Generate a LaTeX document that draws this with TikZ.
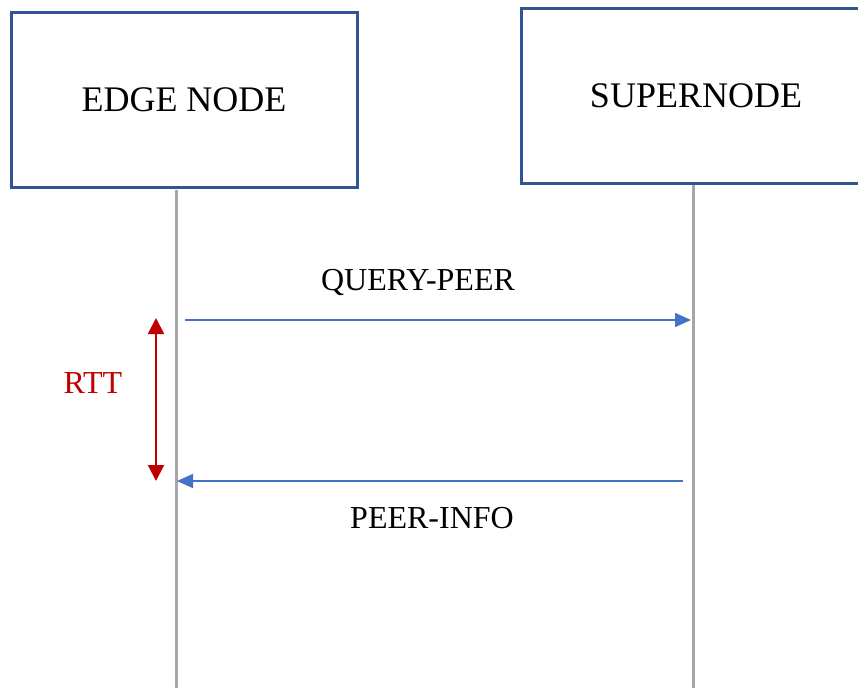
\documentclass[tikz,border=0pt]{standalone}
\usepackage{fontspec}
\setmainfont{Liberation Serif}
\usetikzlibrary{arrows.meta,positioning}
\definecolor{clBox}{HTML}{2F5597}
\definecolor{clMsg}{HTML}{4472C4}
\definecolor{clRtt}{HTML}{C00000}
\definecolor{clLife}{HTML}{A6A6A6}
\tikzset{
  actor/.style={rectangle, draw=clBox, line width=3pt, fill=white, inner sep=0pt,
                minimum width=346pt, minimum height=175pt,
                font=\fontsize{36}{42}\selectfont},
  lifeline/.style={draw=clLife, line width=3pt},
  msg/.style={-{Triangle[length=16pt,width=14pt]}, draw=clMsg, line width=1.5pt},
  rtt/.style={{Triangle[length=16pt,width=16pt]}-{Triangle[length=16pt,width=16pt]},
              draw=clRtt, line width=2pt},
  msglabel/.style={font=\fontsize{32}{38}\selectfont, inner sep=0pt},
}
\begin{document}
\begin{tikzpicture}[x=1pt,y=-1pt]
  \fill[white] (0,0) rectangle (858,688);
  \useasboundingbox (0,0) rectangle (858,688);
  % participants
  \node[actor] (edge) at (184,99.5) {EDGE NODE};
  \node[actor, minimum width=350pt] (super) at (696,95.5) {SUPERNODE};
  % lifelines
  \coordinate (edgeTop) at (176,190);
  \coordinate (edgeEnd) at (176,688);
  \coordinate (superTop) at (693,185);
  \coordinate (superEnd) at (693,688);
  \draw[lifeline] (edgeTop) -- (edgeEnd);
  \draw[lifeline] (superTop) -- (superEnd);
  % messages
  \coordinate (queryFrom) at (185,320);
  \coordinate (queryTo) at (691,320);
  \coordinate (infoFrom) at (683,481);
  \coordinate (infoTo) at (177,481);
  \draw[msg] (queryFrom) -- (queryTo);
  \draw[msg] (infoFrom) -- (infoTo);
  \node[msglabel] (queryLbl) at (418,282) {QUERY-PEER};
  \node[msglabel] (infoLbl) at (432,518) {PEER-INFO};
  % round trip
  \coordinate (rttTop) at (156,318);
  \coordinate (rttBot) at (156,481);
  \draw[rtt] (rttTop) -- (rttBot);
  \node[msglabel, text=clRtt] (rttLbl) at (93,383) {RTT};
\end{tikzpicture}
\end{document}
